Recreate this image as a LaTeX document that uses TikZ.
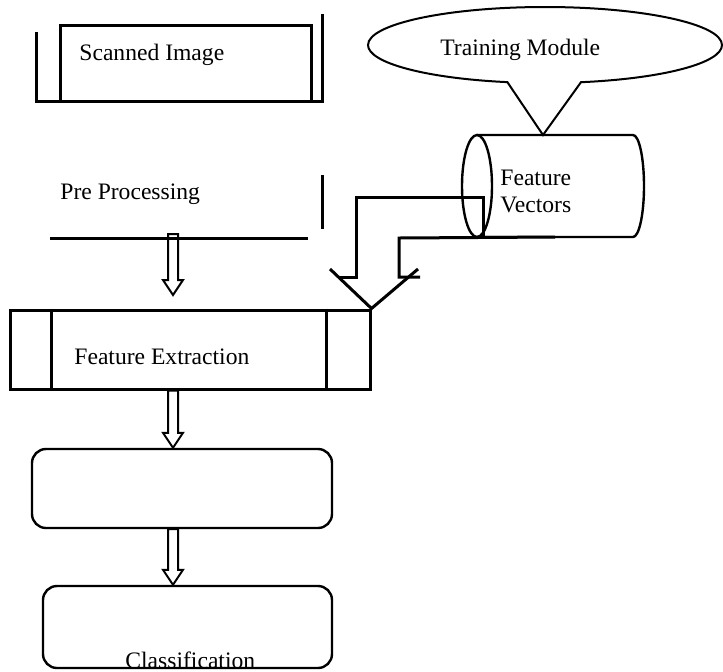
\documentclass[tikz,border=0pt]{standalone}
\usepackage{fontspec}
\setmainfont{Liberation Serif}
\usetikzlibrary{shapes,shapes.geometric,shapes.callouts,calc}
\tikzstyle{frame} = [draw, line width=1.5pt, inner sep=0pt]
\tikzstyle{roundbox} = [draw, line width=1.2pt, rounded corners=7pt, inner sep=0pt]
\tikzstyle{txt} = [anchor=base west, inner sep=0pt]
\tikzstyle{bar} = [line width=1.5pt]
\tikzstyle{hollow} = [line width=1pt, line join=miter]
\tikzstyle{drum} = [line width=1.2pt]

\begin{document}
\begin{tikzpicture}[x=0.5pt, y=-0.5pt, font=\fontsize{11.8}{13.6}\selectfont]
    \useasboundingbox (0,0) rectangle (723,671);

        % Define nodes
        \node[frame, minimum width=125.5pt, minimum height=38pt] (scan) at (185.5,63) {};
        \node[txt] (scanlbl) at (79,60) {Scanned Image};
        \node[txt] (pre) at (60,199) {Pre Processing};

        % Feature vector drum
        \coordinate (fvtop) at (555,135);
        \coordinate (fvbot) at (555,237);
        \draw[drum] (477,186) ellipse [x radius=7.5pt, y radius=25.5pt];
        \draw[drum] (477,135) -- (633,135) arc[start angle=90, end angle=-90, x radius=5.5pt, y radius=25.5pt] -- (477,237);
        \node[txt] (fvlbl1) at (500,185) {Feature};
        \node[txt] (fvlbl2) at (500,212) {Vectors};

        \node[draw, ellipse callout, line width=1pt, minimum width=177pt, minimum height=38pt, callout absolute pointer={($(fvtop)+(-12,0)$)}, callout pointer arc=24] (tm) at (545,45) {};
        \node[txt] (tmlbl) at (440,55) {Training Module};

        \node[frame, minimum width=180pt, minimum height=39.5pt] (fe) at (190,349.5) {};
        \node[txt] (felbl) at (74,364) {Feature Extraction};
        \node[roundbox, minimum width=150pt, minimum height=39.5pt] (box1) at (182,488.5) {};
        \node[roundbox, minimum width=144.5pt, minimum height=41pt] (box2) at (187.5,627) {};
        \node[txt] (cls) at (125,668) {Classification};

        % Side bars
        \draw[bar] (36,32) |- (322,101) -- (322,14);
        \draw[bar] (322,175) -- (322,229);
        \draw[bar] (50,238) -- (308,238);
        \draw[bar] ([xshift=21.5pt]fe.north west) -- ([xshift=21.5pt]fe.south west);
        \draw[bar] ([xshift=-22.5pt]fe.north east) -- ([xshift=-22.5pt]fe.south east);

        % Draw hollow downward arrows
        \coordinate (col) at (173,0);
        \coordinate (preA) at (173,234);
        \coordinate (preB) at (173,295);
        \foreach \S/\T in {preA/preB, fe.south/box1.north, box1.south/box2.north} {
            \draw[hollow] ($(\S -| col)+(-5,0)$) -- ($(\T -| col)+(-5,-15)$) -- ($(\T -| col)+(-10,-15)$) -- (\T -| col) -- ($(\T -| col)+(10,-15)$) -- ($(\T -| col)+(5,-15)$) -- ($(\S -| col)+(5,0)$) -- cycle;
        }

        % Feed from the feature vectors
        \draw[bar] (fvbot) -- (399,238) -- (399,277) -- (420,277);
        \draw[bar] (483,238) -- (483,197) -- (356,197) -- (356,277) -- (340,277);
        \draw[bar] (330,269) -- (fe.north east) -- (418,269);

    \end{tikzpicture}
\end{document}
